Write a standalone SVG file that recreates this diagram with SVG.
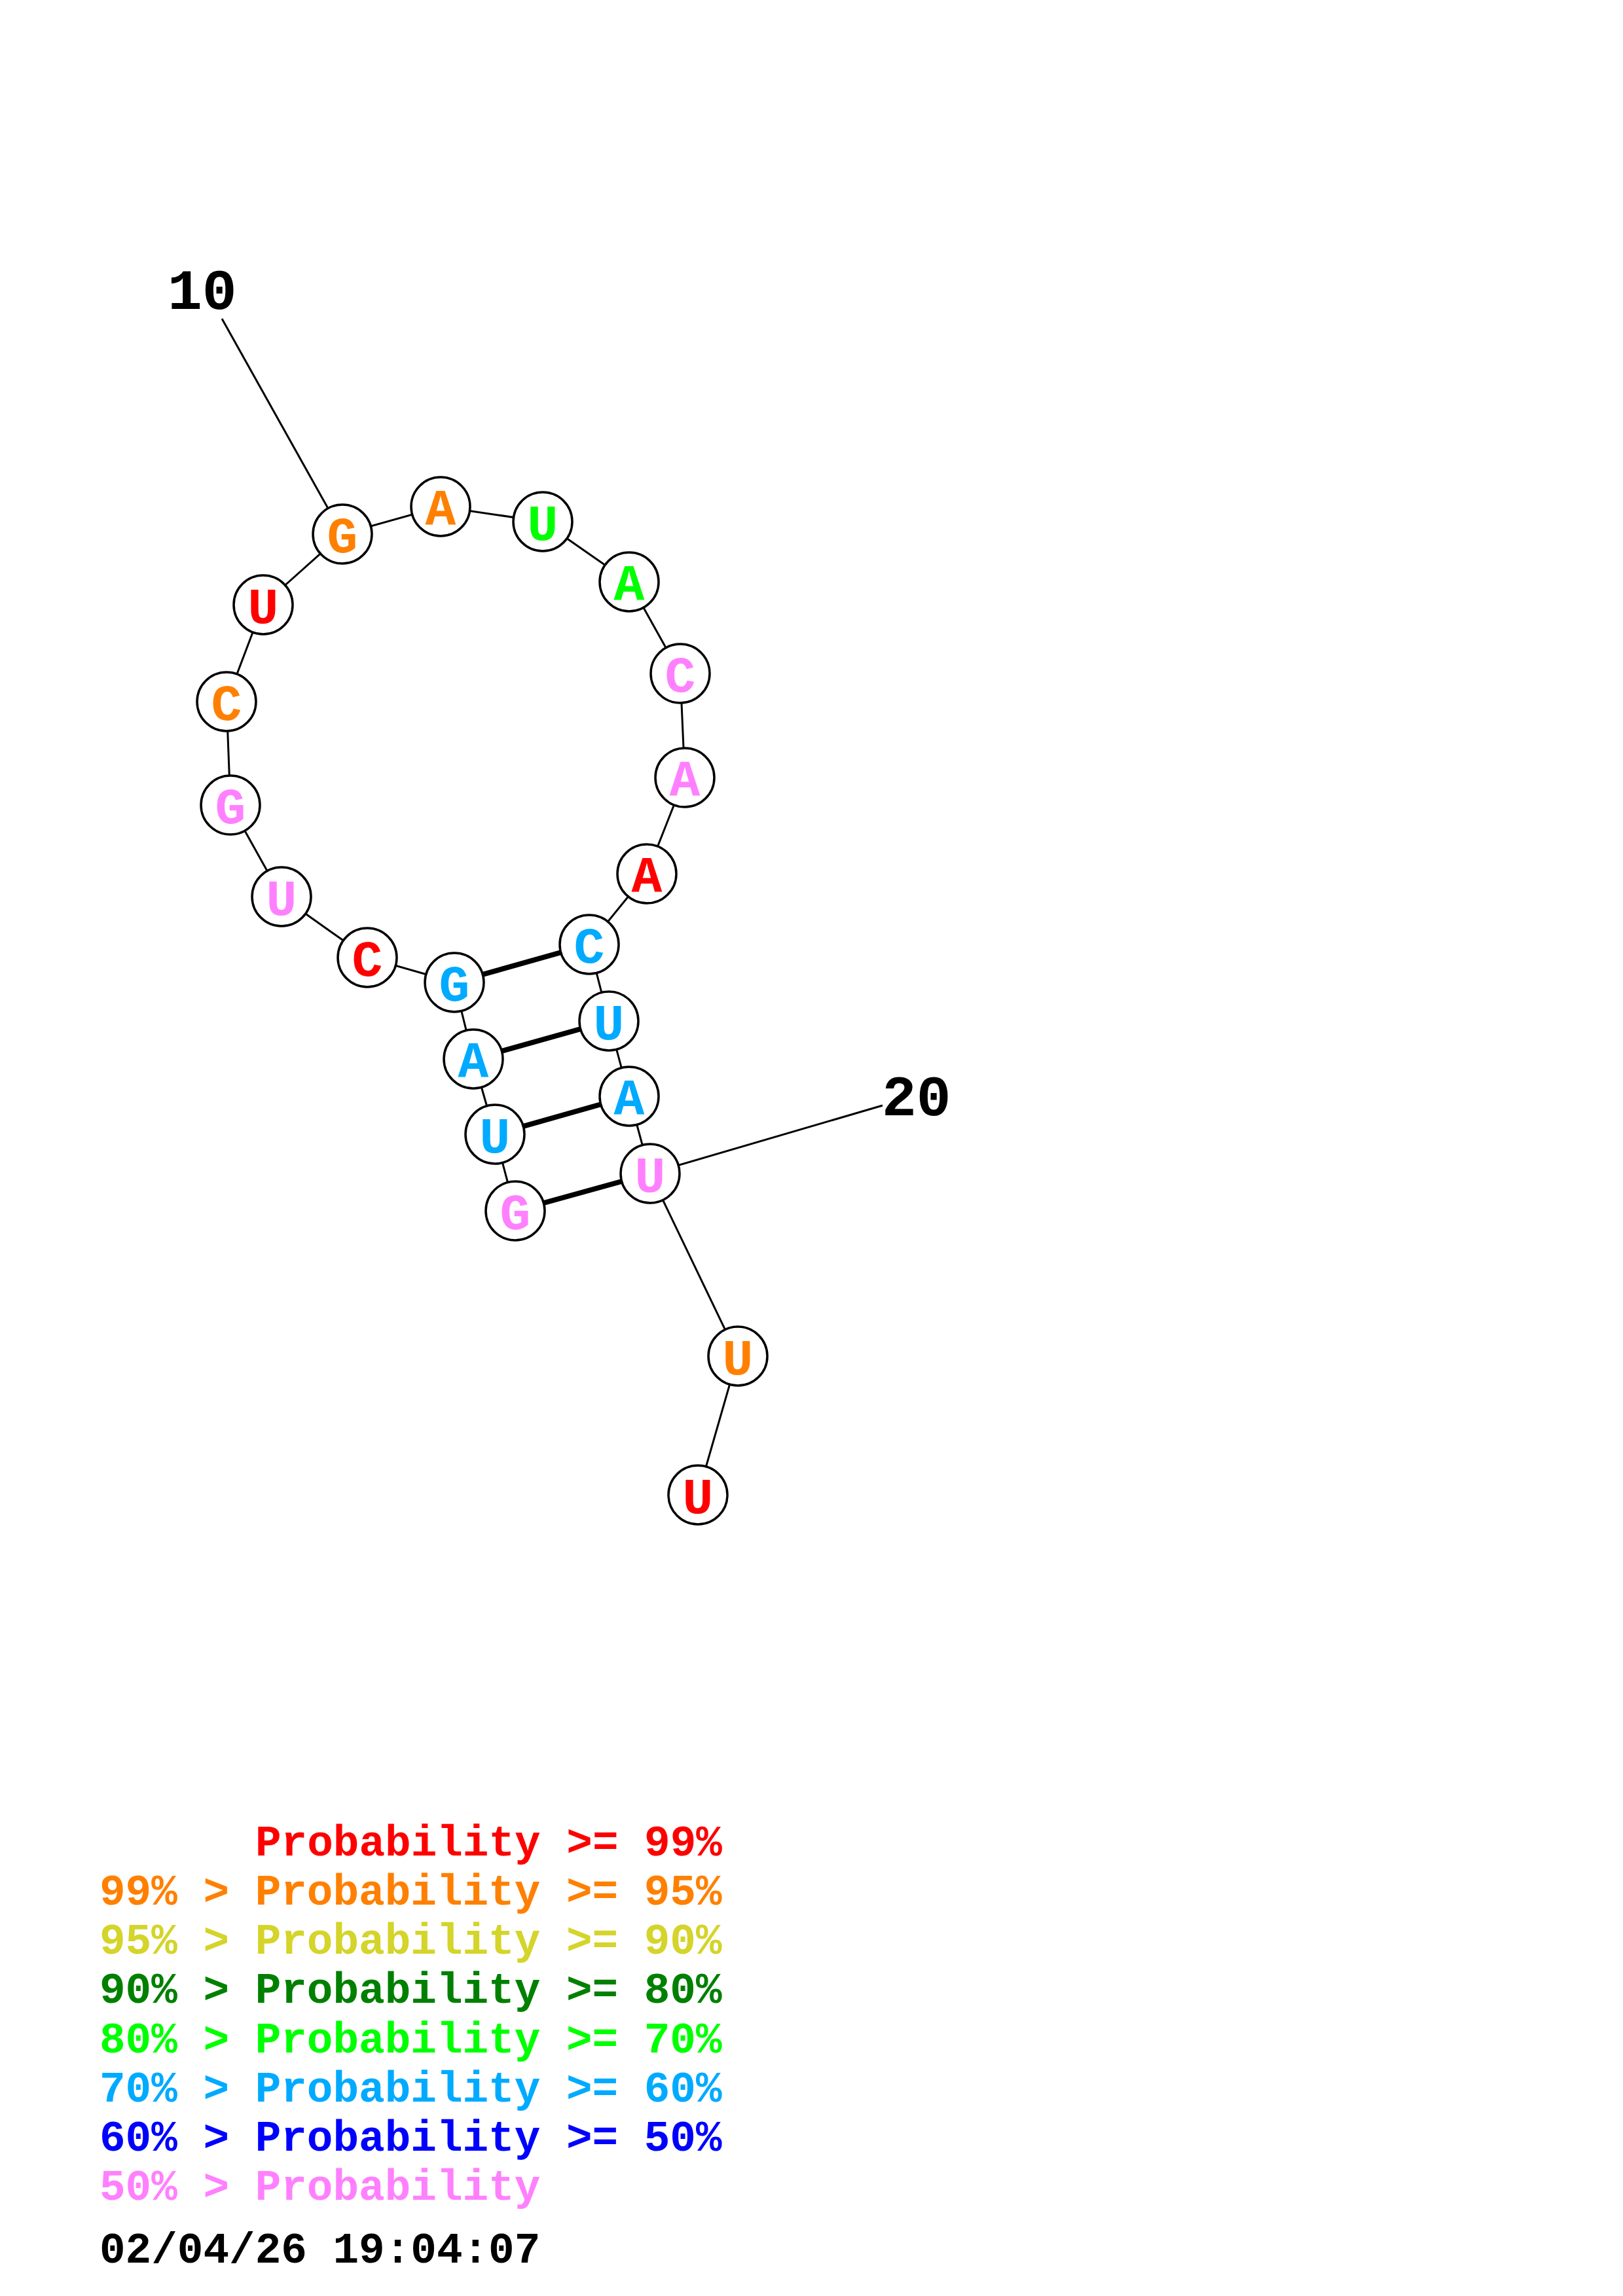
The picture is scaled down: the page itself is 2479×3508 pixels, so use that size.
<svg xmlns="http://www.w3.org/2000/svg" width="2479" height="3508" viewBox="0 0 2479 3508">
<style>
.bb{stroke:#000;stroke-width:3;fill:none}
.pr{stroke:#000;stroke-width:8;fill:none}
.nd circle{fill:#fff;stroke:#000;stroke-width:3.5}
.nd text{font-family:"Liberation Mono","DejaVu Sans Mono",monospace;font-weight:bold;font-size:78px;text-anchor:middle}
.lbl{font-family:"Liberation Mono","DejaVu Sans Mono",monospace;font-weight:bold;font-size:88px;fill:#000}
.lg{font-family:"Liberation Mono","DejaVu Sans Mono",monospace;font-weight:bold;font-size:66px}
.r{fill:#FF0000}.o{fill:#FF8000}.y{fill:#D4D42A}.dg{fill:#008000}.g{fill:#00FF00}.lb{fill:#00AAFF}.b{fill:#0000FF}.p{fill:#FF80FF}
</style>
<rect width="2479" height="3508" fill="#fff"/>
<g id="connectors">
<polyline class="bb" points="787,1850 756,1733 723,1618 694,1501 561,1463 430,1370 352,1230 346,1072 402,924 523,816 673,774 829,797 961,889 1039,1029 1046,1188 988,1335 900,1443 930,1560 961,1675 993,1793 1127,2072 1066,2284"/>
<line class="bb" x1="339" y1="487" x2="523" y2="816"/>
<line class="bb" x1="1348" y1="1689" x2="993" y2="1793"/>
<line class="pr" x1="694" y1="1501" x2="900" y2="1443"/>
<line class="pr" x1="723" y1="1618" x2="930" y2="1560"/>
<line class="pr" x1="756" y1="1733" x2="961" y2="1675"/>
<line class="pr" x1="787" y1="1850" x2="993" y2="1793"/>
</g>
<g id="n1" class="nd"><circle cx="787" cy="1850" r="45"/><text x="787" y="1878" class="p">G</text></g>
<g id="n2" class="nd"><circle cx="756" cy="1733" r="45"/><text x="756" y="1761" class="lb">U</text></g>
<g id="n3" class="nd"><circle cx="723" cy="1618" r="45"/><text x="723" y="1646" class="lb">A</text></g>
<g id="n4" class="nd"><circle cx="694" cy="1501" r="45"/><text x="694" y="1529" class="lb">G</text></g>
<g id="n5" class="nd"><circle cx="561" cy="1463" r="45"/><text x="561" y="1491" class="r">C</text></g>
<g id="n6" class="nd"><circle cx="430" cy="1370" r="45"/><text x="430" y="1398" class="p">U</text></g>
<g id="n7" class="nd"><circle cx="352" cy="1230" r="45"/><text x="352" y="1258" class="p">G</text></g>
<g id="n8" class="nd"><circle cx="346" cy="1072" r="45"/><text x="346" y="1100" class="o">C</text></g>
<g id="n9" class="nd"><circle cx="402" cy="924" r="45"/><text x="402" y="952" class="r">U</text></g>
<g id="n10" class="nd"><circle cx="523" cy="816" r="45"/><text x="523" y="844" class="o">G</text></g>
<g id="n11" class="nd"><circle cx="673" cy="774" r="45"/><text x="673" y="802" class="o">A</text></g>
<g id="n12" class="nd"><circle cx="829" cy="797" r="45"/><text x="829" y="825" class="g">U</text></g>
<g id="n13" class="nd"><circle cx="961" cy="889" r="45"/><text x="961" y="917" class="g">A</text></g>
<g id="n14" class="nd"><circle cx="1039" cy="1029" r="45"/><text x="1039" y="1057" class="p">C</text></g>
<g id="n15" class="nd"><circle cx="1046" cy="1188" r="45"/><text x="1046" y="1216" class="p">A</text></g>
<g id="n16" class="nd"><circle cx="988" cy="1335" r="45"/><text x="988" y="1363" class="r">A</text></g>
<g id="n17" class="nd"><circle cx="900" cy="1443" r="45"/><text x="900" y="1471" class="lb">C</text></g>
<g id="n18" class="nd"><circle cx="930" cy="1560" r="45"/><text x="930" y="1588" class="lb">U</text></g>
<g id="n19" class="nd"><circle cx="961" cy="1675" r="45"/><text x="961" y="1703" class="lb">A</text></g>
<g id="n20" class="nd"><circle cx="993" cy="1793" r="45"/><text x="993" y="1821" class="p">U</text></g>
<g id="n21" class="nd"><circle cx="1127" cy="2072" r="45"/><text x="1127" y="2100" class="o">U</text></g>
<g id="n22" class="nd"><circle cx="1066" cy="2284" r="45"/><text x="1066" y="2312" class="r">U</text></g>
<g id="labels">
<text class="lbl" x="256" y="472">10</text>
<text class="lbl" x="1347" y="1704">20</text>
</g>
<g id="legend" class="lg">
<text x="390" y="2835" class="r">Probability &gt;= 99%</text>
<text x="152" y="2910" class="o">99% &gt; Probability &gt;= 95%</text>
<text x="152" y="2985" class="y">95% &gt; Probability &gt;= 90%</text>
<text x="152" y="3060" class="dg">90% &gt; Probability &gt;= 80%</text>
<text x="152" y="3136" class="g">80% &gt; Probability &gt;= 70%</text>
<text x="152" y="3211" class="lb">70% &gt; Probability &gt;= 60%</text>
<text x="152" y="3286" class="b">60% &gt; Probability &gt;= 50%</text>
<text x="152" y="3361" class="p">50% &gt; Probability</text>
<text x="152" y="3457" fill="#000">02/04/26 19:04:07</text>
</g>
</svg>
